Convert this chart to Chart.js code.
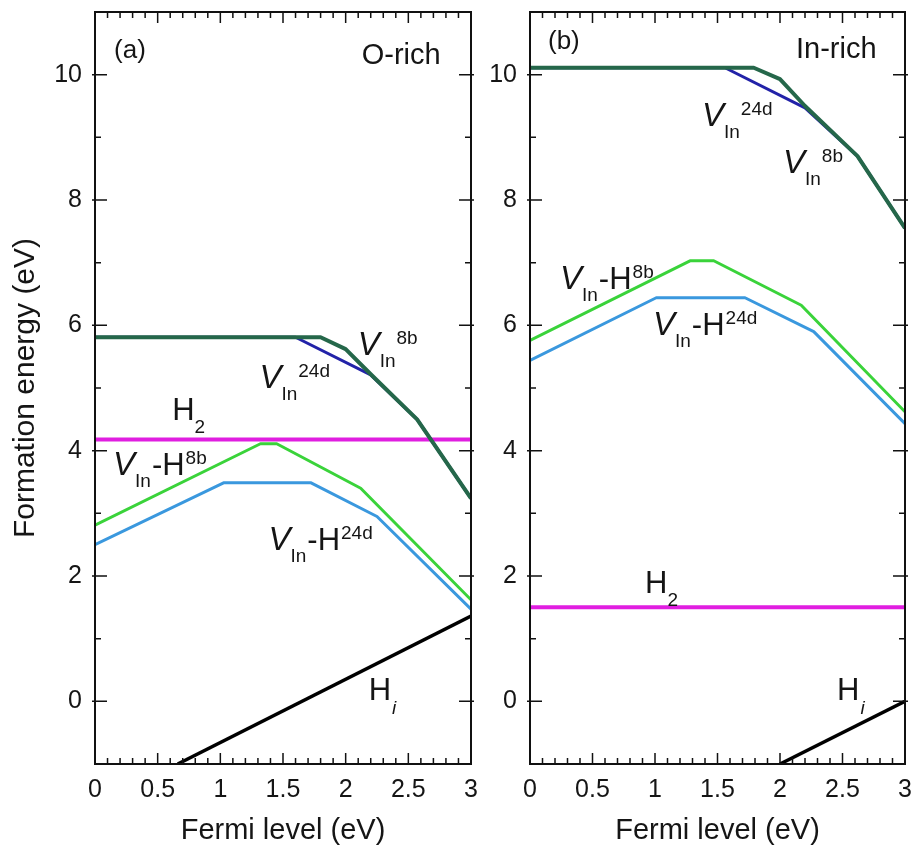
<!DOCTYPE html>
<html><head><meta charset="utf-8">
<script src="https://cdn.jsdelivr.net/npm/chart.js@4.4.1/dist/chart.umd.min.js"></script>
<style>
html,body{margin:0;padding:0;background:#fff;}
#wrap{position:relative;width:911px;height:850px;overflow:hidden;background:#fff;}
canvas{position:absolute;top:0;}
#cA{left:0;} #cB{left:480px;}
</style></head><body>
<div id="wrap"><canvas id="cA" width="480" height="850"></canvas><canvas id="cB" width="431" height="850"></canvas></div>
<script>
// ---- tick labels ----
const xTickValues = [0, 0.5, 1, 1.5, 2, 2.5, 3];
const xTickLabels = ['0', '0.5', '1', '1.5', '2', '2.5', '3'];
const yTickValues = [0, 2, 4, 6, 8, 10];
const yTickLabels = ['0', '2', '4', '6', '8', '10'];

// ---- (a) O-rich : [Fermi level, formation energy] ----
const oRichVIn8b   = [[0, 5.81], [1.8, 5.81], [2.0, 5.62], [2.2, 5.22], [2.57, 4.5], [3.0, 3.24]];
const oRichVIn24d  = [[0, 5.81], [1.6, 5.81], [2.2, 5.21], [2.57, 4.5], [3.0, 3.24]];
const oRichVInH8b  = [[0, 2.81], [1.32, 4.11], [1.45, 4.11], [2.12, 3.4], [3.0, 1.62]];
const oRichVInH24d = [[0, 2.5], [1.03, 3.49], [1.72, 3.49], [2.25, 2.95], [3.0, 1.47]];
const oRichH2      = [[0, 4.18], [3.0, 4.18]];
const oRichHi      = [[0.66, -1], [3.0, 1.36]];

// ---- (b) In-rich ----
const inRichVIn8b   = [[0, 10.11], [1.79, 10.11], [2.0, 9.93], [2.2, 9.5], [2.62, 8.7], [3.0, 7.55]];
const inRichVIn24d  = [[0, 10.11], [1.56, 10.11], [2.2, 9.47], [2.62, 8.7], [3.0, 7.55]];
const inRichVInH8b  = [[0, 5.76], [1.28, 7.03], [1.47, 7.03], [2.17, 6.32], [3.0, 4.62]];
const inRichVInH24d = [[0, 5.44], [1.01, 6.44], [1.72, 6.44], [2.27, 5.9], [3.0, 4.43]];
const inRichH2      = [[0, 1.5], [3.0, 1.5]];
const inRichHi      = [[2.0, -1], [3.0, 0]];

// ---- styles ----
const FONT = '"Liberation Sans", Arial, Helvetica, sans-serif';
const TXT = '#151515';
Chart.defaults.font.family = FONT;
Chart.defaults.color = TXT;

const styleVIn8b   = {color: '#25674a', width: 4};
const styleVIn24d  = {color: '#2222a8', width: 3};
const styleVInH8b  = {color: '#3ad33a', width: 3};
const styleVInH24d = {color: '#3a98de', width: 3};
const styleH2      = {color: '#e01ee0', width: 4};
const styleHi      = {color: '#000000', width: 3.5};

// label parts: [text, size, italic, dy, gap]
const pV = ['V', 33, true, 0, 0];
const pIn = ['In', 19, false, 12, 0];
const sup = t => [t, 19, false, -11, 1];
const pDashH = ['-H', 31, false, 0, 1];
const pH = ['H', 31, false, 0, 0];

const labelsA = [
  {x: 0.152, y: 10.26, parts: [['(a)', 26, false, 0, 0]]},
  {x: 2.128, y: 10.17, parts: [['O-rich', 29, false, 0, 0]]},
  {x: 2.096, y: 5.52, parts: [pV, pIn, sup('8b')]},
  {x: 1.312, y: 4.995, parts: [pV, pIn, sup('24d')]},
  {x: 0.616, y: 4.486, parts: [pH, ['2', 19, false, 13, 0]]},
  {x: 0.144, y: 3.61, parts: [pV, pIn, pDashH, sup('8b')]},
  {x: 1.384, y: 2.416, parts: [pV, pIn, pDashH, sup('24d')]},
  {x: 2.184, y: 0.027, parts: [pH, ['i', 19, true, 14, 1]]}
];
const labelsB = [
  {x: 0.144, y: 10.41, parts: [['(b)', 26, false, 0, 0]]},
  {x: 2.128, y: 10.27, parts: [['In-rich', 29, false, 0, 0]]},
  {x: 1.376, y: 9.18, parts: [pV, pIn, sup('24d')]},
  {x: 2.024, y: 8.435, parts: [pV, pIn, sup('8b')]},
  {x: 0.24, y: 6.587, parts: [pV, pIn, pDashH, sup('8b')]},
  {x: 0.984, y: 5.84, parts: [pV, pIn, pDashH, sup('24d')]},
  {x: 0.92, y: 1.73, parts: [pH, ['2', 19, false, 13, 0]]},
  {x: 2.456, y: 0.027, parts: [pH, ['i', 19, true, 14, 1]]}
];

const framePlugin = {
  id: 'frame',
  afterDatasetsDraw(chart) {
    const {ctx, chartArea: a, scales: {x, y}} = chart;
    ctx.save();
    ctx.strokeStyle = '#111';
    ctx.lineWidth = 1.5;
    ctx.beginPath();
    for (let i = 0; i <= 30; i++) {
      const px = x.getPixelForValue(i / 10);
      const len = i % 5 === 0 ? 11 : 6;
      ctx.moveTo(px, a.bottom); ctx.lineTo(px, a.bottom - len);
      ctx.moveTo(px, a.top); ctx.lineTo(px, a.top + len);
    }
    for (let v = -1; v <= 11; v++) {
      const py = y.getPixelForValue(v);
      const major = v % 2 === 0;
      const len = major ? 12 : 6;
      ctx.moveTo(a.left - (major ? 3 : 0), py); ctx.lineTo(a.left + len, py);
      ctx.moveTo(a.right + (major ? 3 : 0), py); ctx.lineTo(a.right - len, py);
    }
    ctx.stroke();
    ctx.lineWidth = 2;
    ctx.strokeRect(a.left, a.top, a.right - a.left, a.bottom - a.top);
    ctx.restore();
  }
};

const annotPlugin = {
  id: 'annot',
  afterDraw(chart, args, opts) {
    const {ctx, scales: {x, y}} = chart;
    ctx.save();
    ctx.fillStyle = TXT;
    ctx.textBaseline = 'alphabetic';
    ctx.textAlign = 'left';
    for (const lab of opts.labels || []) {
      let px = x.getPixelForValue(lab.x);
      const py = y.getPixelForValue(lab.y);
      for (const [t, size, italic, dy, gap] of lab.parts) {
        ctx.font = (italic ? 'italic ' : '') + size + 'px ' + FONT;
        px += gap || 0;
        ctx.fillText(t, px, py + dy);
        px += ctx.measureText(t).width;
      }
    }
    ctx.restore();
  }
};

function ds(name, pts, st) {
  return {label: name, data: pts.map(p => ({x: p[0], y: p[1]})),
    borderColor: st.color, backgroundColor: st.color, borderWidth: st.width,
    pointRadius: 0, fill: false, tension: 0, borderJoinStyle: 'round', borderCapStyle: 'butt'};
}

function makeChart(id, datasets, labels, yWidth, padRight, showYTitle) {
  return new Chart(document.getElementById(id), {
    type: 'line',
    data: {datasets},
    options: {
      responsive: false, animation: false, events: [],
      layout: {padding: {top: 12, right: padRight, bottom: 0, left: 0}},
      plugins: {legend: {display: false}, tooltip: {enabled: false}, annot: {labels}},
      scales: {
        x: {
          type: 'linear', min: 0, max: 3,
          grid: {display: false, drawTicks: false}, border: {display: false},
          afterBuildTicks: s => { s.ticks = xTickValues.map(v => ({value: v})); },
          ticks: {font: {size: 25}, color: TXT, padding: 11, maxRotation: 0, autoSkip: false,
            callback: (v, i) => xTickLabels[i]},
          title: {display: true, text: 'Fermi level (eV)', font: {size: 29}, color: TXT, padding: {top: 0, bottom: 2}},
          afterFit: s => { s.height = 86; s.paddingLeft = 0; s.paddingRight = 0; }
        },
        y: {
          type: 'linear', min: -1, max: 11,
          grid: {display: false, drawTicks: false}, border: {display: false},
          afterBuildTicks: s => { s.ticks = yTickValues.map(v => ({value: v})); },
          ticks: {font: {size: 25}, color: TXT, padding: 13, autoSkip: false,
            callback: (v, i) => yTickLabels[i]},
          title: {display: showYTitle, text: 'Formation energy (eV)', font: {size: 30}, color: TXT, padding: {top: 8, bottom: 0}},
          afterFit: s => { s.width = yWidth; s.paddingTop = 0; s.paddingBottom = 0; }
        }
      }
    },
    plugins: [framePlugin, annotPlugin]
  });
}

makeChart('cA', [
  ds('V_In^8b', oRichVIn8b, styleVIn8b),
  ds('V_In^24d', oRichVIn24d, styleVIn24d),
  ds('V_In-H^8b', oRichVInH8b, styleVInH8b),
  ds('V_In-H^24d', oRichVInH24d, styleVInH24d),
  ds('H_i', oRichHi, styleHi),
  ds('H_2', oRichH2, styleH2)
], labelsA, 95, 9, true);

makeChart('cB', [
  ds('V_In^8b', inRichVIn8b, styleVIn8b),
  ds('V_In^24d', inRichVIn24d, styleVIn24d),
  ds('V_In-H^8b', inRichVInH8b, styleVInH8b),
  ds('V_In-H^24d', inRichVInH24d, styleVInH24d),
  ds('H_i', inRichHi, styleHi),
  ds('H_2', inRichH2, styleH2)
], labelsB, 50, 6, false);
</script>
</body></html>
